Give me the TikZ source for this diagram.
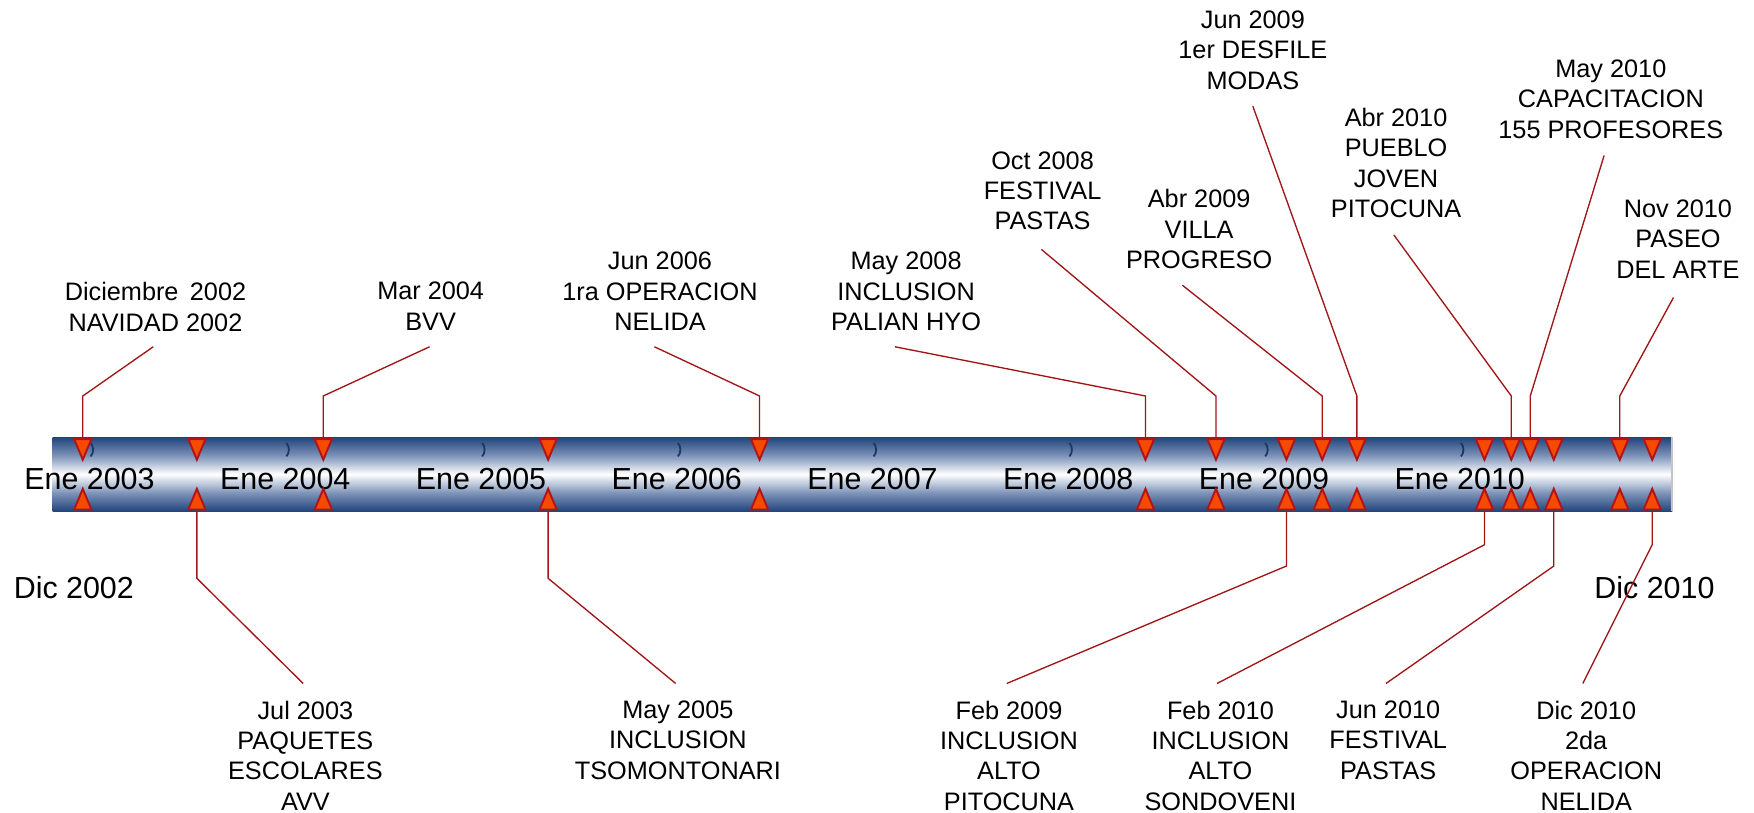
\documentclass[tikz,border=0pt]{standalone}
\usepackage{fontspec}
\setmainfont{Liberation Sans}
\definecolor{barblue}{HTML}{22457C}
\definecolor{barmid}{HTML}{7E94B9}
\definecolor{tickblue}{HTML}{1A3766}
\definecolor{trifill}{HTML}{F64A00}
\definecolor{tridraw}{HTML}{B0141A}
\definecolor{linered}{HTML}{A01515}
\pgfdeclareverticalshading{barshade}{100bp}{color(0bp)=(barblue); color(25bp)=(barblue); color(37.5bp)=(barmid); color(50bp)=(white); color(62.5bp)=(barmid); color(75bp)=(barblue); color(100bp)=(barblue)}
\tikzset{
  ev/.style={font=\fontsize{11.3}{13.6}\selectfont, align=center, inner sep=0pt, anchor=north},
  yr/.style={font=\fontsize{13.6}{16}\selectfont, inner sep=0pt},
  conn/.style={draw=linered, line width=0.6pt},
  tri/.style={fill=trifill, draw=tridraw, line width=0.85pt, line join=miter},
  tickmark/.style={draw=tickblue, line width=0.8pt}
}
\begin{document}
\begin{tikzpicture}[x=0.5pt, y=-0.5pt]
\useasboundingbox (0,0) rectangle (1568,726);

% bar
\shade[shading=barshade] (47,391) rectangle (1495,457);
\draw[gray!45, line width=0.8pt] (1495,391) -- (1495,457);

% year ticks and labels
\foreach \k/\yy in {0/2003,1/2004,2/2005,3/2006,4/2007,5/2008,6/2009,7/2010} {
  \pgfmathsetmacro{\xx}{81+175*\k}
  \draw[tickmark] (\xx,396) .. controls (\xx+3,399) and (\xx+3,405) .. (\xx,408);
  \node[yr] (ene\yy) at (\xx-1,428) {Ene \yy};
}
\node[yr] (dic2002) at (66,525) {Dic 2002};

% event positions
\foreach \n/\x in {1/74,2/176,3/289,4/490,5/679,6/1024,7/1087,8/1150,9/1182,10/1213,11/1327,12/1351,13/1368,14/1389,15/1448,16/1477} {
  \coordinate (tt\n) at (\x,391);
  \coordinate (tb\n) at (\x,457);
}

% top labels
\node[ev] (lab1) at (139,252) {Diciembre\hspace{0.45em}2002\\NAVIDAD 2002};
\node[ev] (lab3) at (385,252) {Mar 2004\\BVV};
\node[ev] (lab5) at (590,225) {Jun 2006\\1ra OPERACION\\NELIDA};
\node[ev] (lab6) at (810,225) {May 2008\\INCLUSION\\PALIAN HYO};
\node[ev] (lab7) at (932,135) {Oct 2008\\FESTIVAL\\PASTAS};
\node[ev] (lab9) at (1072,169) {Abr 2009\\VILLA\\PROGRESO};
\node[ev] (lab10) at (1120,9) {Jun 2009\\1er DESFILE\\MODAS};
\node[ev] (lab12) at (1248,96) {Abr 2010\\PUEBLO\\JOVEN\\PITOCUNA};
\node[ev] (lab13) at (1440,53) {May 2010\\CAPACITACION\\155 PROFESORES};
\node[ev] (lab15) at (1500,178) {Nov 2010\\PASEO\\DEL ARTE};

% bottom labels
\node[ev] (lab2) at (273,626) {Jul 2003\\PAQUETES\\ESCOLARES\\AVV};
\node[ev] (lab4) at (606,626) {May 2005\\INCLUSION\\TSOMONTONARI};
\node[ev] (lab8) at (902,626) {Feb 2009\\INCLUSION\\ALTO\\PITOCUNA};
\node[ev] (lab11) at (1091,626) {Feb 2010\\INCLUSION\\ALTO\\SONDOVENI};
\node[ev] (lab14) at (1241,626) {Jun 2010\\FESTIVAL\\PASTAS};
\node[ev] (lab16) at (1418,626) {Dic 2010\\2da\\OPERACION\\NELIDA};

\node[yr] (dic2010) at (1479,525) {Dic 2010};

% bends and ends (top)
\foreach \n/\bx/\ex/\ey in {1/74/137/310, 3/289/384/310, 5/679/585/310, 6/1024/800/310, 7/1087/931/223, 9/1182/1057/255, 10/1213/1120/95, 12/1351/1246/210, 13/1368/1434/139, 15/1448/1496/266} {
  \coordinate (bend\n) at (\bx,354);
  \coordinate (end\n) at (\ex,\ey);
  \draw[conn] (end\n) -- (bend\n) -- (tt\n);
}
% bends and ends (bottom)
\foreach \n/\bx/\by/\ex in {2/176/517/271, 4/490/517/604, 8/1150/506/900, 11/1327/487/1088, 14/1389/506/1239, 16/1477/487/1415} {
  \coordinate (bend\n) at (\bx,\by);
  \coordinate (end\n) at (\ex,611);
  \draw[conn] (tb\n) -- (bend\n) -- (end\n);
}

% triangles
\foreach \n in {1,...,16} {
  \draw[tri] (tt\n) ++(-7.7,1.5) -- ++(15.4,0) -- ++(-7.7,18.5) -- cycle;
  \draw[tri] (tb\n) ++(-7.7,-1.5) -- ++(15.4,0) -- ++(-7.7,-18.5) -- cycle;
}
\end{tikzpicture}
\end{document}
